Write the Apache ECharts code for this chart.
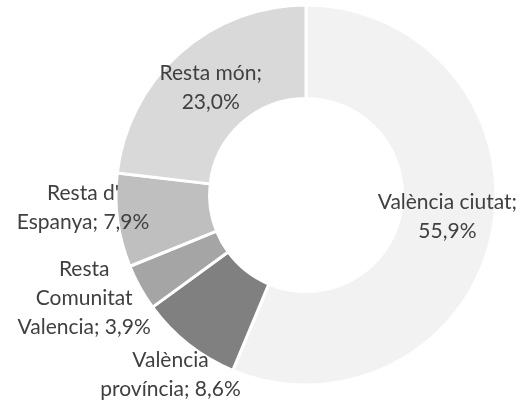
<!DOCTYPE html>
<html><head><meta charset="utf-8">
<script src="https://cdn.jsdelivr.net/npm/echarts@6/dist/echarts.min.js"></script>
<style>html,body{margin:0;padding:0;background:#fff}#c{width:525px;height:402px}</style>
</head><body><div id="c"></div>
<script>
var names = ["València ciutat", "València província", "Resta Comunitat Valencia", "Resta d' Espanya", "Resta món"];
var labelTexts = ["València ciutat;\n55,9%", "València\nprovíncia; 8,6%", "Resta\nComunitat\nValencia; 3,9%", "Resta d'\nEspanya; 7,9%", "Resta món;\n23,0%"];
var values = [55.9, 8.6, 3.9, 7.9, 23.0];
var colors = ["#f2f2f2", "#808080", "#a5a5a5", "#bfbfbf", "#d9d9d9"];
var labelShift = [[-2, -7], [-45, 65], [-94, 32], [-78, -7], [2, 2]];

var chart = echarts.init(document.getElementById('c'), null, {renderer: 'canvas'});
chart.setOption({
  animation: false,
  series: [{
    type: 'pie',
    center: [306, 195],
    radius: [96.5, 190],
    startAngle: 90,
    clockwise: true,
    avoidLabelOverlap: false,
    itemStyle: {borderColor: '#ffffff', borderWidth: 3},
    label: {
      show: true,
      position: 'inside',
      color: '#404040',
      fontFamily: 'Lato',
      fontSize: 21,
      lineHeight: 29,
      align: 'center',
      formatter: function (p) { return labelTexts[p.dataIndex]; }
    },
    labelLine: {show: false},
    labelLayout: function (p) {
      var s = labelShift[p.dataIndex];
      return {dx: s[0], dy: s[1]};
    },
    emphasis: {disabled: true},
    data: names.map(function (n, i) {
      return {name: n, value: values[i], itemStyle: {color: colors[i]}};
    })
  }]
});
</script></body></html>
